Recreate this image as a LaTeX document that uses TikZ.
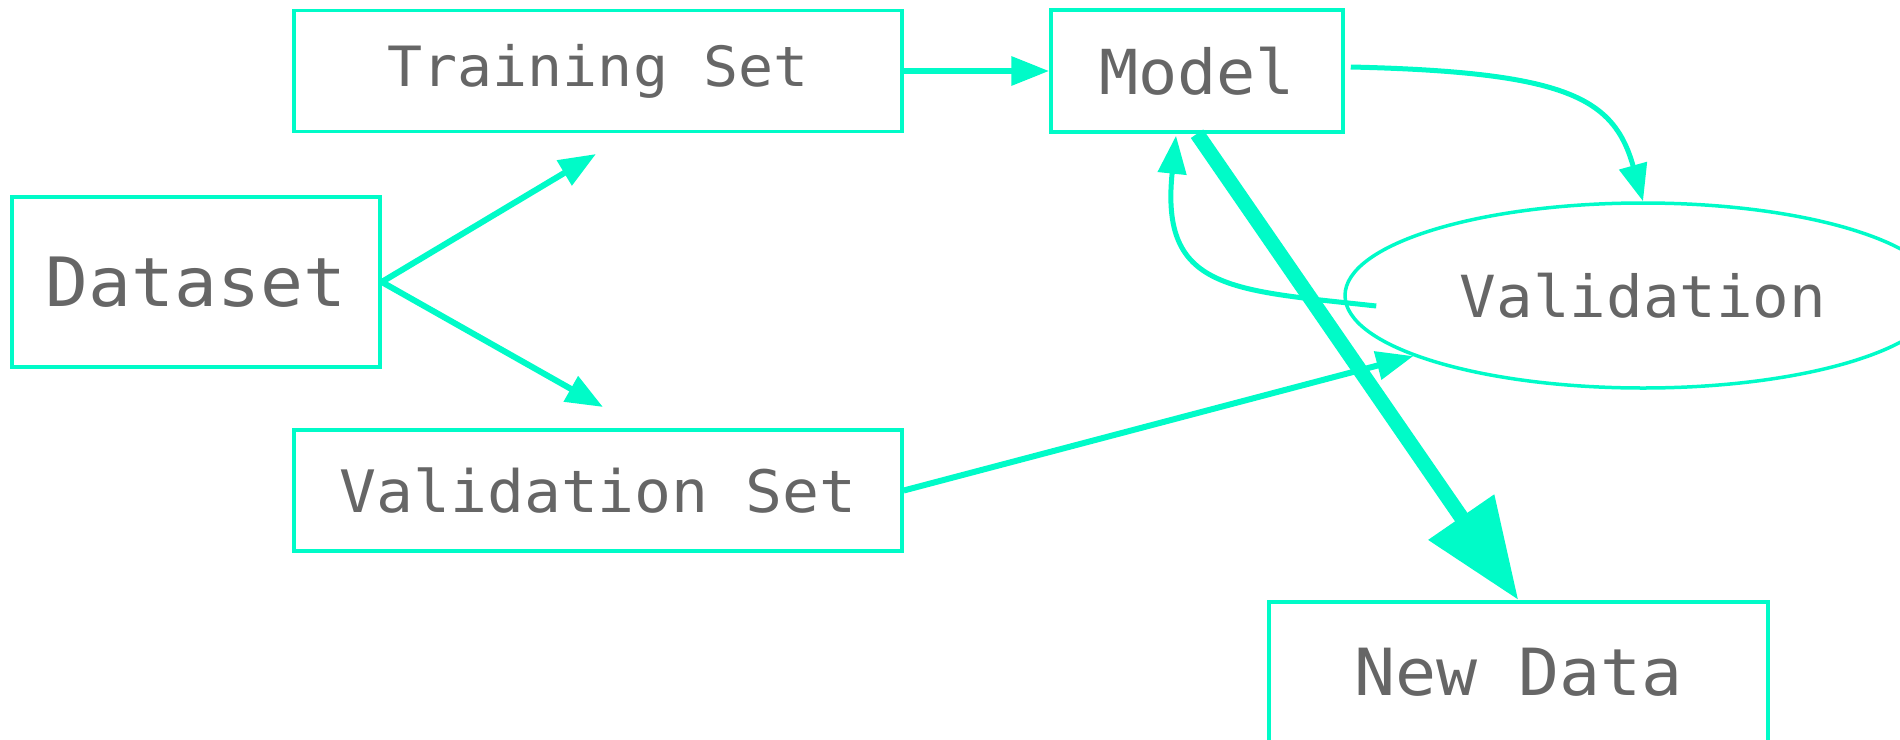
\documentclass[tikz,border=0pt]{standalone}
\usepackage{fontspec}
\newfontfamily\dmono[FakeStretch=1.05]{DejaVu Sans Mono}
\usetikzlibrary{arrows.meta,shapes.geometric,calc}
\definecolor{mint}{HTML}{00FBC8}
\definecolor{txt}{HTML}{666666}
\newcommand\dfs[1]{\dmono\fontsize{#1pt}{#1pt}\selectfont}
\begin{document}
\begin{tikzpicture}[x=1pt,y=-1pt,
  box/.style={draw=mint, line width=3.5pt, rectangle, inner sep=0pt, text=txt},
  oval/.style={draw=mint, line width=3.5pt, ellipse, inner sep=0pt, text=txt},
  arr/.style={draw=mint, line width=6pt, -{Triangle[length=37pt,width=28pt]}},
  thickarr/.style={draw=mint, line width=15pt, -{Triangle[length=101pt,width=76pt]}}]
\useasboundingbox (0,0) rectangle (1900,739);
\node[box, minimum width=608pt, minimum height=121pt, font=\dfs{55.5}] (ts) at (598,71) {Training Set};
\node[box, minimum width=368pt, minimum height=170pt, font=\dfs{68}] (ds) at (196,282) {Dataset};
\node[box, minimum width=608pt, minimum height=121pt, font=\dfs{58.5}] (vs) at (598,490.5) {Validation Set};
\node[box, minimum width=292pt, minimum height=122pt, font=\dfs{62}] (model) at (1197,71) {Model};
\node[oval, minimum width=596pt, minimum height=185pt, font=\dfs{58}] (val) at (1643,295.5) {Validation};
\node[box, minimum width=499pt, minimum height=141pt, font=\dfs{65}] (nd) at (1518.5,672.5) {New Data};
\coordinate (tsin) at (596,154);
\coordinate (vsin) at (603,407);
\draw[arr] (ds.east) -- (tsin);
\draw[arr] (ds.east) -- (vsin);
\draw[arr, line width=6.5pt, -{Triangle[length=38pt,width=28pt]}] (ts) -- (model);
\draw[arr] (vs.east) -- (val);
\draw[arr, line width=5pt] ($(model.east)+(6,-4)$) .. controls (1568,72) and (1614,98) .. (val.north);
\draw[arr, line width=5pt, -{Triangle[length=38pt,width=28pt]}] ($(val.west)+(33,10.5)$) .. controls (1230,290) and (1160,290) .. ($(model.south)+(-21,2)$);
\draw[thickarr] (model.south) -- (nd.north);
\end{tikzpicture}
\end{document}
